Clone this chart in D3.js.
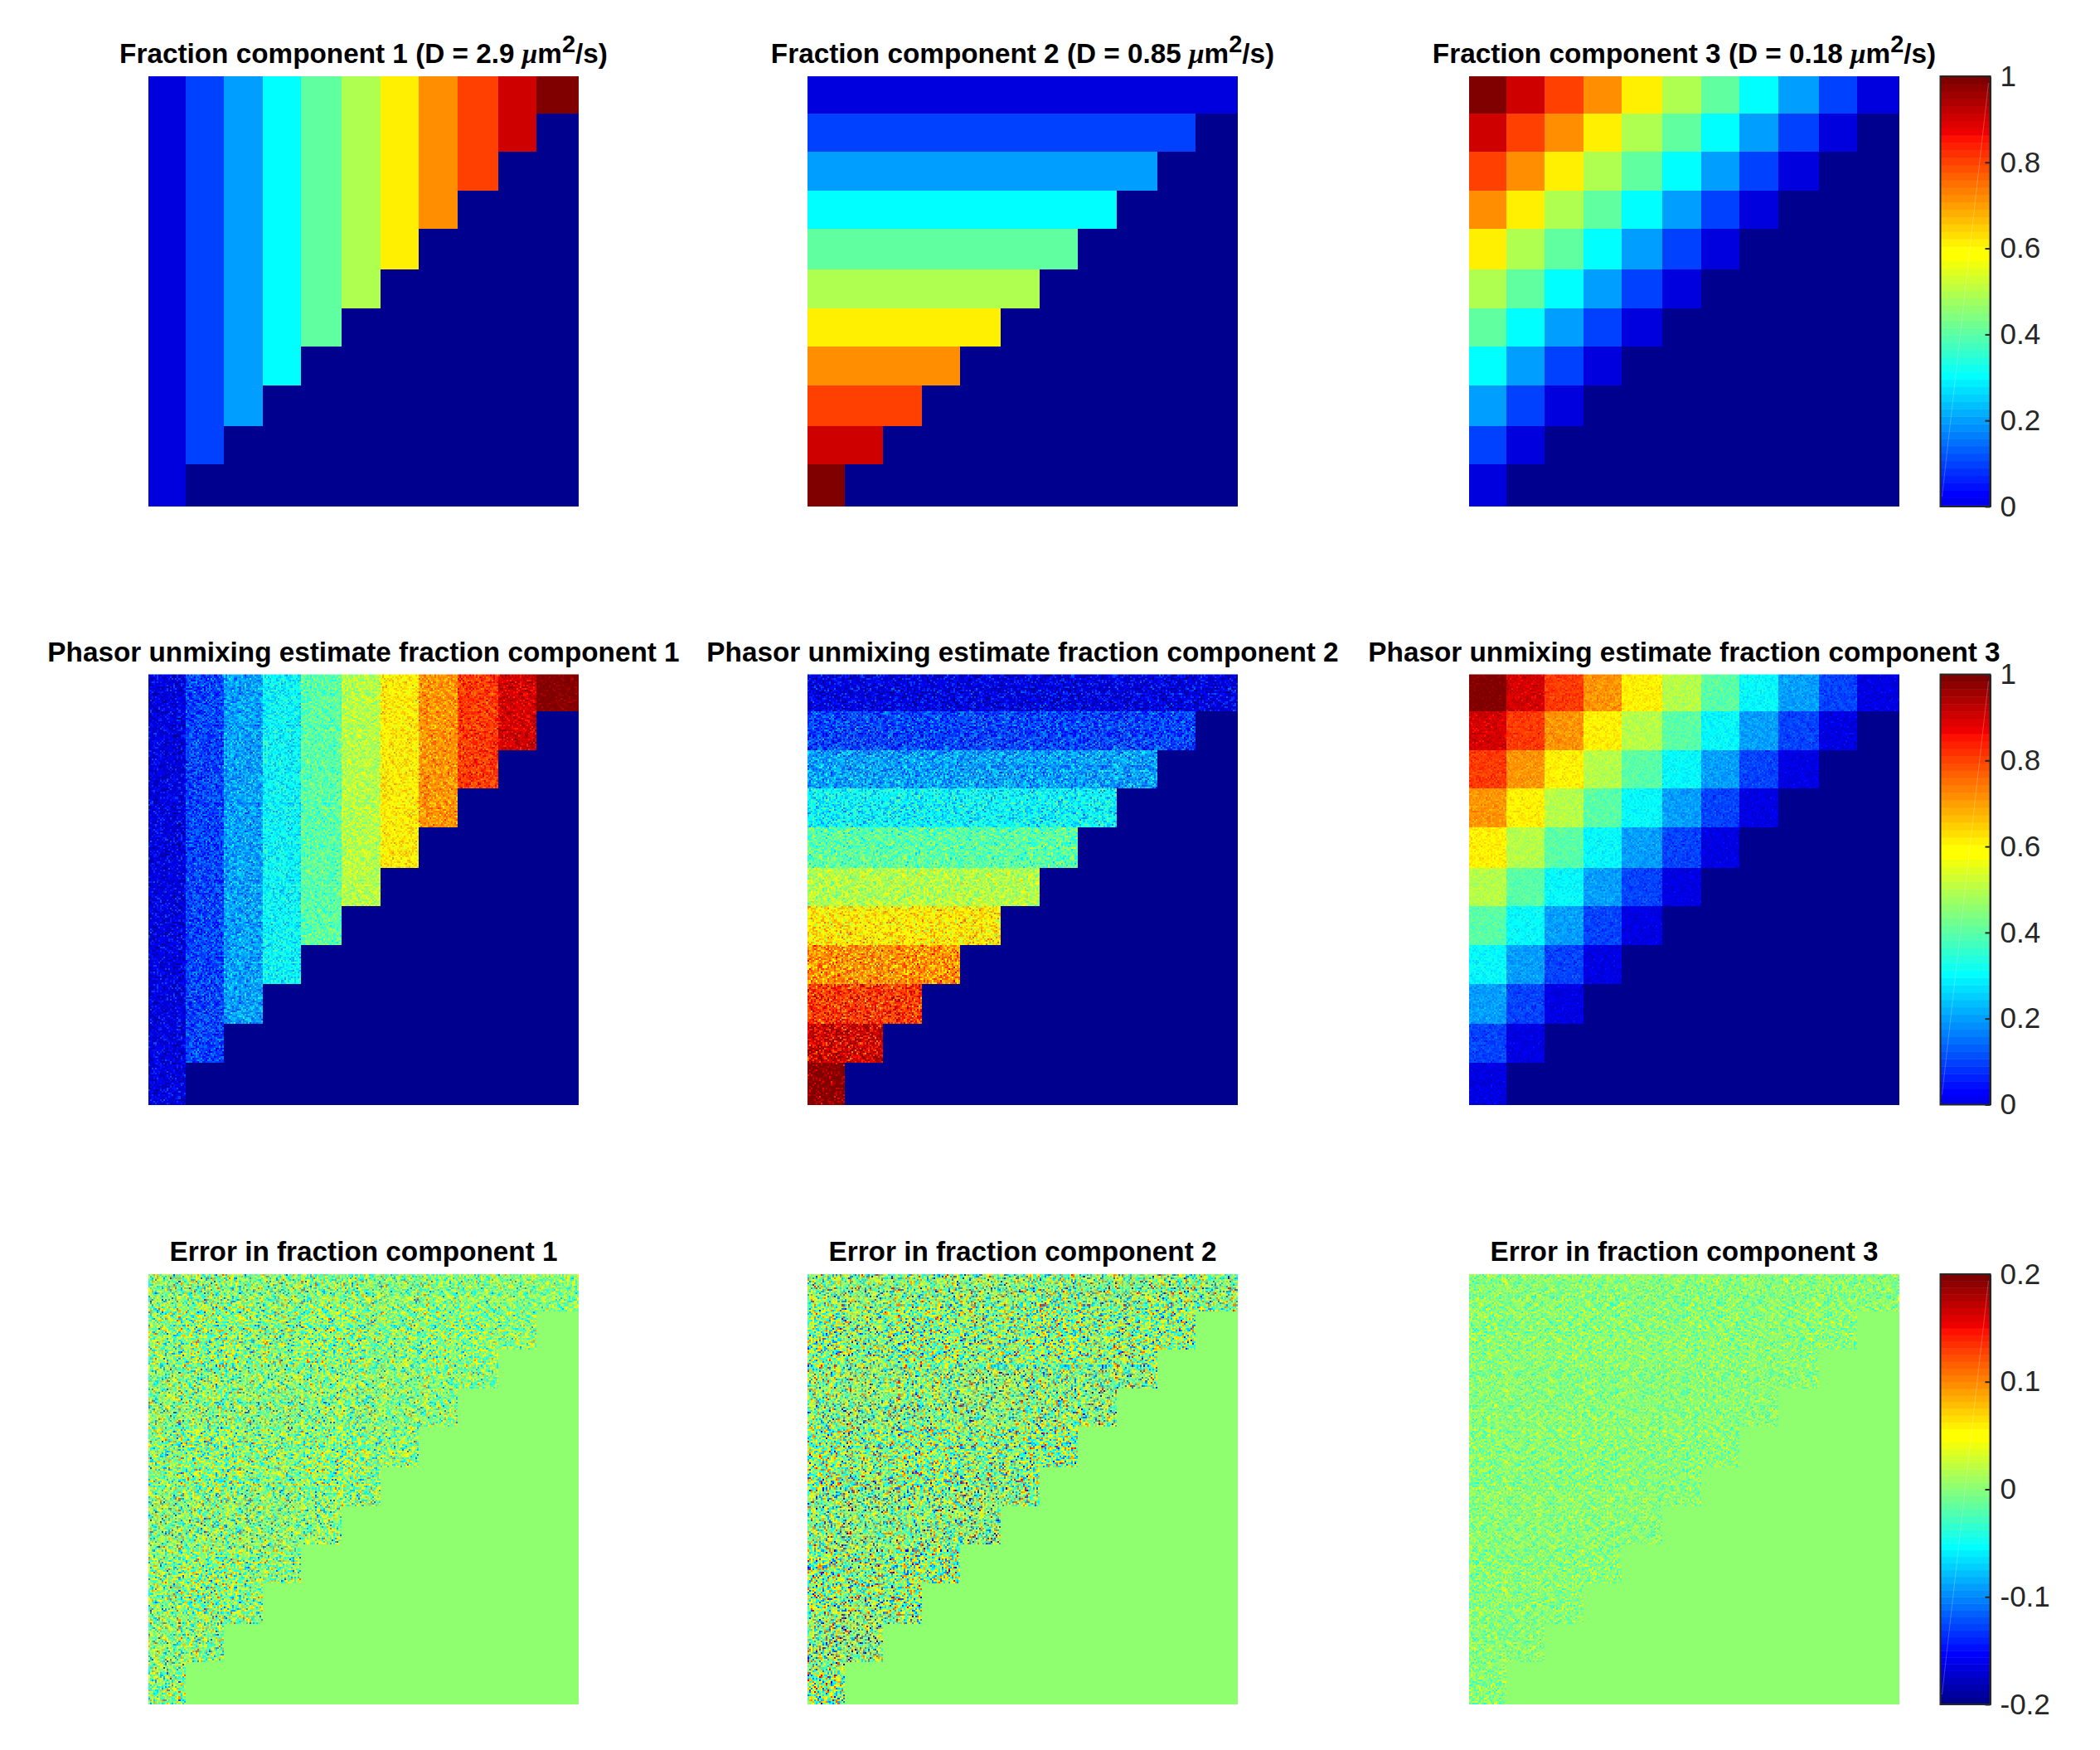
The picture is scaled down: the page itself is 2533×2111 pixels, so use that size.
<!DOCTYPE html>
<html>
<head>
<meta charset="utf-8">
<script src="https://cdn.jsdelivr.net/npm/d3@7"></script>
<style>
html,body{margin:0;padding:0;background:#fff;}
svg{display:block;}
.ttl{font-family:"Liberation Sans",Arial,sans-serif;font-weight:bold;font-size:33.3px;fill:#000;}
.cb text{font-family:"Liberation Sans",Arial,sans-serif;font-size:35px;fill:#262626;}
.cb line,.cb path{stroke:#262626;}
image{image-rendering:pixelated;}
</style>
</head>
<body>
<svg id="fig" width="2533" height="2111"></svg>
<script>
// ---- Data ----
// Pixel edges of the 11 cells in the 256-pixel image grid.
const cellEdges = [0,22,45,68,91,115,138,161,184,208,231,256];

// Fractions per cell (row = top to bottom, null = outside the triangle).
const fractionC1 = [
 [0,.1,.2,.3,.4,.5,.61,.71,.81,.9,1],
 [0,.1,.2,.3,.4,.5,.61,.71,.81,.9,null],
 [0,.1,.2,.3,.4,.5,.61,.71,.81,null,null],
 [0,.1,.2,.3,.4,.5,.61,.71,null,null,null],
 [0,.1,.2,.3,.4,.5,.61,null,null,null,null],
 [0,.1,.2,.3,.4,.5,null,null,null,null,null],
 [0,.1,.2,.3,.4,null,null,null,null,null,null],
 [0,.1,.2,.3,null,null,null,null,null,null,null],
 [0,.1,.2,null,null,null,null,null,null,null,null],
 [0,.1,null,null,null,null,null,null,null,null,null],
 [0,null,null,null,null,null,null,null,null,null,null]];
const fractionC2 = [
 [0,0,0,0,0,0,0,0,0,0,0],
 [.1,.1,.1,.1,.1,.1,.1,.1,.1,.1,null],
 [.2,.2,.2,.2,.2,.2,.2,.2,.2,null,null],
 [.3,.3,.3,.3,.3,.3,.3,.3,null,null,null],
 [.4,.4,.4,.4,.4,.4,.4,null,null,null,null],
 [.5,.5,.5,.5,.5,.5,null,null,null,null,null],
 [.61,.61,.61,.61,.61,null,null,null,null,null,null],
 [.71,.71,.71,.71,null,null,null,null,null,null,null],
 [.81,.81,.81,null,null,null,null,null,null,null,null],
 [.9,.9,null,null,null,null,null,null,null,null,null],
 [1,null,null,null,null,null,null,null,null,null,null]];
const fractionC3 = [
 [1,.9,.81,.71,.61,.5,.4,.3,.2,.1,0],
 [.9,.81,.71,.61,.5,.4,.3,.2,.1,0,null],
 [.81,.71,.61,.5,.4,.3,.2,.1,0,null,null],
 [.71,.61,.5,.4,.3,.2,.1,0,null,null,null],
 [.61,.5,.4,.3,.2,.1,0,null,null,null,null],
 [.5,.4,.3,.2,.1,0,null,null,null,null,null],
 [.4,.3,.2,.1,0,null,null,null,null,null,null],
 [.3,.2,.1,0,null,null,null,null,null,null,null],
 [.2,.1,0,null,null,null,null,null,null,null,null],
 [.1,0,null,null,null,null,null,null,null,null,null],
 [0,null,null,null,null,null,null,null,null,null,null]];

// Noise strength read per column (component 1) or per row (components 2, 3).
const noiseByColumnC1 = [.050,.050,.049,.048,.047,.046,.044,.042,.040,.037,.033];
const noiseByRowC2    = [.058,.058,.059,.060,.061,.062,.063,.064,.065,.066,.066];
const noiseByRowC3    = [.021,.021,.020,.020,.020,.020,.020,.020,.020,.020,.020];

// Grain tile, typed by hand to imitate a crop of the error map. It is a texture only:
// individual noise pixels are NOT read from the reference, only the per-cell strength above is.
const grainTile = [
"37265148362571463827154637284615","62483715264938172645382716493527",
"15736284517362948157263845172638","48261573842615374926183574628147",
"73518426375184262735418263571486","26847153628473511684273516482735",
"51372684153726847352618473526814","84615327486153272864153726481537",
"37248516372485166173854261735482","62783415263748152486372518463721",
"15426837154268373752184637251846","48371562483715426127463851726483",
"71862345716234583846127362485173","24537168245716372573846115362748",
"56128473518264817364251843716254","83475216832475163718462537148627",
"27614583265148374265817362485136","64253718647325162483175246371854",
"18736452183764257136284617352681","45182673451827636851473284615327",
"72546138725461383267518463728145","36817254368125474516372851463782",
"81463725184637252874163547281536","53728146537281641365287416352874",
"26154837261548738247516328473615","47836215478362155136847261538426",
"74261583742615836724315847261573","15648372156483721583627415386247",
"68372514683725463471528637145862","32586147325186472658174352867134",
"46173852461738255382641876234517","83751624837516486147352418675243"];
// Residual, in units of the noise strength, for each tile digit.
const grainLevels = [-1.9,-1.7,-.89,-.49,-.16,.16,.49,.89,1.7,1.9];

const titlesRow1 = ["Fraction component 1 (D = 2.9 ","Fraction component 2 (D = 0.85 ","Fraction component 3 (D = 0.18 "];
const titlesRow2 = ["Phasor unmixing estimate fraction component 1","Phasor unmixing estimate fraction component 2","Phasor unmixing estimate fraction component 3"];
const titlesRow3 = ["Error in fraction component 1","Error in fraction component 2","Error in fraction component 3"];
const fractionTicks = [0,.2,.4,.6,.8,1];
const errorTicks = [-.2,-.1,0,.1,.2];
const fractionLimits = [-.1,1];   // background sits at the lowest level
const errorLimits = [-.2,.2];

// ---- Layout ----
const panelLefts = [179,974,1772];
const panelTops = [92,813.5,1537];
const panelSize = 519;
const barLeft = 2340.5, barWidth = 60;

// ---- Colour map: 64-level jet ----
const clamp01 = v => Math.max(0,Math.min(1,v));
const jet = d3.range(1,65).map(k => {
  const r = clamp01(Math.min((k-24)/16,(72-k)/16));
  const g = clamp01(Math.min((k-8)/16,(57-k)/16));
  const b = clamp01(Math.min((k+8)/16,(40-k)/16));
  return [Math.round(r*255),Math.round(g*255),Math.round(b*255)];
});
const jetCss = jet.map(c => `rgb(${c[0]},${c[1]},${c[2]})`);
const levelIndex = d3.range(64);
const fractionColor = d3.scaleQuantize().domain(fractionLimits).range(levelIndex);
const errorColor = d3.scaleQuantize().domain(errorLimits).range(levelIndex);

const svg = d3.select("#fig");

const noiseAt = [
  (i,j) => noiseByColumnC1[j],
  (i) => noiseByRowC2[i],
  (i) => noiseByRowC3[i]
];
const truth = [fractionC1,fractionC2,fractionC3];

function tile(a,b){ return grainLevels[+grainTile[b%32][a%32]]; }
function grain(px,py,i,j,comp){
  // two differently stepped reads of the tile, so its typed rows do not show as stripes
  const g1 = tile(px*11 + j*13 + comp*17, py*7 + i*19 + comp*11);
  const g2 = tile(py*13 + i*5 + comp*3 + 9, px*5 + j*23 + comp*29 + 3);
  return (g1+g2)/Math.SQRT2;
}

function drawPanel(row,comp){
  const x = d3.scaleLinear().domain([0,256]).range([panelLefts[comp],panelLefts[comp]+panelSize]);
  const y = d3.scaleLinear().domain([0,256]).range([panelTops[row],panelTops[row]+panelSize]);
  const grid = truth[comp];
  const isErr = row===2;
  const scale = isErr ? errorColor : fractionColor;
  const cells = [];
  grid.forEach((r,i)=>r.forEach((v,j)=>cells.push({i,j,v})));
  const g = svg.append("g");
  g.selectAll("rect").data(cells).join("rect")
    .attr("shape-rendering","crispEdges")
    .attr("x",d=>x(cellEdges[d.j]))
    .attr("y",d=>y(cellEdges[d.i]))
    .attr("width",d=>x(cellEdges[d.j+1])-x(cellEdges[d.j]))
    .attr("height",d=>y(cellEdges[d.i+1])-y(cellEdges[d.i]))
    .attr("fill",d=>{
      if(isErr) return jetCss[scale(0)];
      return jetCss[scale(d.v===null?fractionLimits[0]:d.v)];
    });
  if(row===0) return;
  const cv = document.createElement("canvas");
  cv.width = 256; cv.height = 256;
  const ctx = cv.getContext("2d");
  const img = ctx.createImageData(256,256);
  for(let i=0;i<11;i++) for(let j=0;j<11;j++){
    const v = grid[i][j];
    if(v===null) continue;
    const amp = noiseAt[comp](i,j);
    for(let py=cellEdges[i];py<cellEdges[i+1];py++)
      for(let px=cellEdges[j];px<cellEdges[j+1];px++){
        const e = amp*grain(px,py,i,j,comp);
        const val = isErr ? e : v+e;
        const c = jet[scale(Math.max(scale.domain()[0],Math.min(scale.domain()[1],val)))];
        const o = (py*256+px)*4;
        img.data[o]=c[0]; img.data[o+1]=c[1]; img.data[o+2]=c[2]; img.data[o+3]=255;
      }
  }
  ctx.putImageData(img,0,0);
  g.append("image")
    .attr("href",cv.toDataURL())
    .attr("x",x(0)).attr("y",y(0))
    .attr("width",panelSize).attr("height",panelSize)
    .attr("preserveAspectRatio","none");
}

function drawTitle(row,comp,text){
  const t = svg.append("text").attr("class","ttl")
    .attr("x",panelLefts[comp]+panelSize/2)
    .attr("y",panelTops[row]-16)
    .attr("text-anchor","middle")
    .text(text);
  if(row===0){
    t.append("tspan").attr("font-family","Liberation Serif").attr("font-style","italic").text("\u03bc");
    t.append("tspan").text("m");
    t.append("tspan").attr("font-size","29px").attr("dy",-13).text("2");
    t.append("tspan").attr("dy",13).text("/s)");
  }
}

function drawBar(row,limits,ticks){
  const top = panelTops[row];
  const lo = ticks[0], hi = ticks[ticks.length-1];
  const y = d3.scaleLinear().domain([lo,hi]).range([top+panelSize,top]);
  const scale = row===2 ? errorColor : fractionColor;
  const bands = levelIndex.map(k=>{
    const [a,b] = scale.invertExtent(k);
    return {k,a:Math.max(a,lo),b:Math.min(b,hi)};
  }).filter(d=>d.b>d.a);
  const g = svg.append("g").attr("class","cb");
  g.selectAll("rect.band").data(bands).join("rect").attr("class","band")
    .attr("x",barLeft).attr("width",barWidth)
    .attr("y",d=>y(d.b)).attr("height",d=>y(d.a)-y(d.b)+.5)
    .attr("fill",d=>jetCss[d.k]);
  g.append("line").attr("x1",barLeft+2).attr("y1",y(lo)-12).attr("x2",barLeft+barWidth-2).attr("y2",y(hi)+8)
    .style("stroke","#fff").attr("stroke-opacity",.3).attr("stroke-width",.8);
  g.append("rect").attr("x",barLeft).attr("y",top).attr("width",barWidth).attr("height",panelSize)
    .attr("fill","none").attr("stroke","#262626").attr("stroke-width",2);
  const axis = d3.axisRight(y).tickValues(ticks).tickFormat(d=>String(d)).tickSizeInner(-6).tickSizeOuter(0).tickPadding(12);
  const ag = g.append("g").attr("transform",`translate(${barLeft+barWidth},0)`).call(axis);
  ag.select(".domain").attr("stroke-width",2);
  ag.selectAll(".tick line").attr("stroke-width",2);
  ag.attr("font-size",null).attr("font-family",null);
}

[0,1,2].forEach(row=>[0,1,2].forEach(comp=>drawPanel(row,comp)));
titlesRow1.forEach((t,c)=>drawTitle(0,c,t));
titlesRow2.forEach((t,c)=>drawTitle(1,c,t));
titlesRow3.forEach((t,c)=>drawTitle(2,c,t));
drawBar(0,fractionLimits,fractionTicks);
drawBar(1,fractionLimits,fractionTicks);
drawBar(2,errorLimits,errorTicks);
</script>
</body>
</html>
